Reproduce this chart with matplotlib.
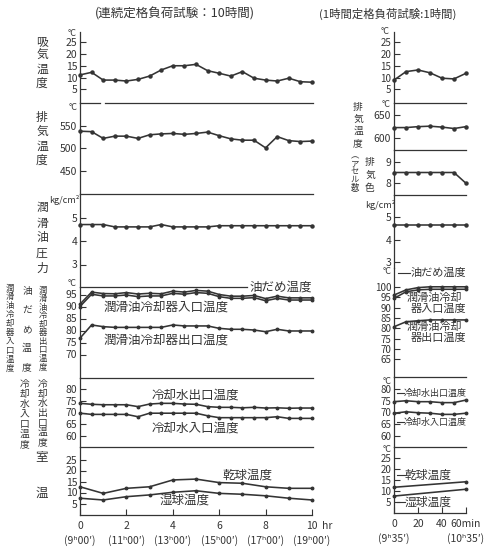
import numpy as np
import matplotlib
matplotlib.use("Agg")
import matplotlib.pyplot as plt
import matplotlib.transforms as mtransforms
from matplotlib.lines import Line2D

plt.rcParams['font.family'] = ['Noto Sans CJK JP', 'DejaVu Sans']

# ---------------- data: 10 h continuous rated-load test ----------------
hours_half = [0, 0.5, 1, 1.5, 2, 2.5, 3, 3.5, 4, 4.5, 5, 5.5, 6, 6.5, 7, 7.5, 8, 8.5, 9, 9.5, 10]
hours_full = [0, 1, 2, 3, 4, 5, 6, 7, 8, 9, 10]

intake_temp = [11.1, 12.2, 8.9, 8.9, 8.5, 9.2, 10.6, 13.2, 15.0, 15.0, 15.6, 12.9, 11.8,
               10.6, 12.5, 9.7, 8.9, 8.5, 9.7, 8.2, 8.0]
exhaust_temp = [538, 537, 522, 527, 527, 522, 530, 532, 533, 531, 533, 536, 528, 521, 518,
                518, 501, 526, 517, 515, 516]
oil_pressure = [4.7, 4.7, 4.7, 4.6, 4.6, 4.6, 4.6, 4.7, 4.6, 4.6, 4.6, 4.6, 4.65, 4.65,
                4.65, 4.65, 4.65, 4.65, 4.65, 4.65, 4.65]
oil_sump_temp = [91.0, 96.0, 95.4, 95.3, 95.8, 95.2, 95.5, 95.3, 96.4, 96.0, 96.7, 96.4,
                 95.0, 94.3, 94.3, 94.6, 93.3, 94.3, 93.6, 93.6, 93.6]
cooler_in_temp = [90.0, 95.1, 94.4, 94.4, 94.8, 94.1, 94.4, 94.4, 95.5, 95.1, 95.8, 95.5,
                  94.1, 93.4, 93.4, 93.7, 92.4, 93.4, 92.7, 92.7, 92.7]
cooler_out_temp = [76.8, 82.3, 81.6, 81.3, 81.3, 81.3, 81.3, 81.3, 82.3, 81.9, 81.9, 81.9,
                   80.9, 80.5, 80.5, 80.2, 79.5, 80.5, 79.8, 79.8, 79.8]
water_out_temp = [73.9, 73.5, 73.3, 73.3, 73.3, 72.5, 73.6, 73.9, 73.9, 73.6, 73.5, 72.5,
                  72.2, 72.2, 72.0, 72.2, 71.9, 72.0, 71.8, 71.9, 71.9]
water_in_temp = [69.7, 69.2, 69.2, 69.2, 69.2, 68.2, 69.7, 69.7, 69.7, 69.7, 69.7, 68.6,
                 67.8, 67.8, 67.8, 67.8, 67.8, 68.2, 67.5, 67.5, 67.5]
dry_bulb = [12.6, 9.6, 11.9, 12.6, 15.7, 16.1, 14.5, 14.2, 12.6, 11.9, 11.9]
wet_bulb = [7.4, 6.6, 8.1, 8.9, 10.1, 10.8, 9.6, 9.2, 8.5, 7.4, 6.6]

x_ticks_10h = [0, 2, 4, 6, 8, 10]
x_labels_10h = ['0', '2', '4', '6', '8', '10']
clock_10h = ['(9ʰ00′)', '(11ʰ00′)', '(13ʰ00′)', '(15ʰ00′)', '(17ʰ00′)', '(19ʰ00′)']

# ---------------- data: 1 h rated-load test ----------------
minutes = [0, 10, 20, 30, 40, 50, 60]
minutes_ends = [0, 60]

intake_temp_1h = [8.9, 12.5, 13.2, 12.0, 9.7, 9.4, 11.8]
exhaust_temp_1h = [623, 623, 625, 626, 624, 621, 625]
exhaust_colour_1h = [8.5, 8.5, 8.5, 8.5, 8.5, 8.5, 8.0]
oil_pressure_1h = [4.65, 4.65, 4.65, 4.65, 4.65, 4.65, 4.65]
oil_sump_temp_1h = [96.1, 98.6, 99.7, 100.1, 100.1, 100.1, 100.1]
cooler_in_temp_1h = [94.5, 97.7, 98.6, 98.9, 98.9, 98.9, 98.9]
cooler_out_temp_1h = [80.8, 83.2, 83.7, 84.1, 84.1, 84.1, 84.1]
water_out_temp_1h = [74.6, 75.0, 74.6, 74.6, 74.2, 74.2, 75.3]
water_in_temp_1h = [69.7, 70.3, 69.9, 69.7, 69.2, 69.2, 69.7]
dry_bulb_1h = [11.7, 14.2]
wet_bulb_1h = [7.7, 10.8]

x_ticks_1h = [0, 20, 40, 60]
x_labels_1h = ['0', '20', '40', '60min']
clock_1h = {0: '(9ʰ35′)', 60: '(10ʰ35′)'}

# ---------------- layout ----------------
W, H = 485, 549
INK = '#343434'
fig = plt.figure(figsize=(W / 100, H / 100), dpi=100)
fig.patch.set_facecolor('white')


def fx(x):
    return x / W


def fy(y):
    return 1 - y / H


def panel(x0, x1, ytop, ybot, ref_val, ref_px, ppu, xlim, yticks, tsize=7.5):
    ax = fig.add_axes([fx(x0), fy(ybot), (x1 - x0) / W, (ybot - ytop) / H])
    ax.set_xlim(*xlim)
    ax.set_ylim(ref_val - (ybot - ref_px) / ppu, ref_val + (ref_px - ytop) / ppu)
    ax.patch.set_alpha(0)
    for s in ('top', 'right', 'bottom'):
        ax.spines[s].set_visible(False)
    ax.spines['left'].set_color(INK)
    ax.spines['left'].set_linewidth(0.9)
    ax.set_yticks(yticks)
    ax.tick_params(axis='y', direction='in', length=4, width=0.8, colors=INK,
                   labelsize=tsize, pad=2)
    ax.set_xticks([])
    return ax


def time_axis(ax, ticks, labels, clock):
    ax.spines['bottom'].set_visible(True)
    ax.spines['bottom'].set_color(INK)
    ax.spines['bottom'].set_linewidth(0.9)
    ax.set_xticks(ticks)
    ax.set_xticklabels(labels)
    ax.tick_params(axis='x', direction='in', length=4, width=0.8, colors=INK,
                   labelsize=7.5, pad=4)
    trans = mtransforms.blended_transform_factory(
        ax.transData, ax.transAxes + mtransforms.ScaledTranslation(0, -26 / 100,
                                                                   fig.dpi_scale_trans))
    for t, s in clock:
        ax.text(t, 0, s, transform=trans, ha='center', va='center', fontsize=7.5,
                color=INK)


def separator(ax, xa=0.0, xb=1.0):
    ax.axhline(ax.get_ylim()[0], xa, xb, color=INK, lw=0.9, clip_on=False)


def series(ax, x, y, ms=2.2):
    ax.plot(x, y, color=INK, lw=1.15, marker='o', ms=ms, mfc=INK, mec=INK,
            clip_on=False)


def text(x, y, s, size=8.5, ha='left', va='center', **kw):
    fig.text(fx(x), fy(y), s, fontsize=size, ha=ha, va=va, color=INK, **kw)


def vlabel(x, y0, y1, chars, size=8):
    n = len(chars)
    for i, c in enumerate(chars):
        y = y0 + (y1 - y0) * i / (n - 1) if n > 1 else y0
        text(x, y, c, size=size, ha='center')


def leader(x0, x1, y):
    fig.add_artist(Line2D([fx(x0), fx(x1)], [fy(y), fy(y)], color=INK, lw=0.8))


# left block: 10 h test
LX0, LX1 = 80, 312
lx = (0, 10)
l1 = panel(LX0, LX1, 32, 103, 10, 77.5, 2.35, lx, [5, 10, 15, 20, 25])
series(l1, hours_half, intake_temp)
separator(l1, 0, 0.085)
separator(l1, 0.108, 1.004)

l2 = panel(LX0, LX1, 103, 194, 500, 148.3, 0.45, lx, [450, 500, 550])
series(l2, hours_half, exhaust_temp)
separator(l2, 0, 1.004)

l3 = panel(LX0, LX1, 194, 287, 5, 217.5, 23.5, lx, [3, 4, 5])
series(l3, hours_half, oil_pressure)
separator(l3, 0, 0.72)

l4 = panel(LX0, LX1, 287, 378, 95, 294.5, 2.4, lx, [70, 75, 80, 85, 90, 95])
series(l4, hours_half, oil_sump_temp, ms=1.8)
series(l4, hours_half, cooler_in_temp, ms=1.8)
series(l4, hours_half, cooler_out_temp, ms=1.8)
separator(l4, 0, 1.004)

l5 = panel(LX0, LX1, 378, 447, 80, 389, 2.35, lx, [60, 65, 70, 75, 80])
series(l5, hours_half, water_out_temp, ms=1.8)
series(l5, hours_half, water_in_temp, ms=1.8)
separator(l5, 0, 1.004)

l6 = panel(LX0, LX1, 447, 515, 0, 514.5, 2.2, lx, [5, 10, 15, 20, 25])
series(l6, hours_full, dry_bulb, ms=1.8)
series(l6, hours_full, wet_bulb, ms=1.8)
time_axis(l6, x_ticks_10h, x_labels_10h, zip(x_ticks_10h, clock_10h))

# right block: 1 h test
RX0, RX1 = 394, 466
rx = (0, 60)
r1 = panel(RX0, RX1, 32, 103, 10, 77.5, 2.35, rx, [5, 10, 15, 20, 25], 7)
series(r1, minutes, intake_temp_1h)
separator(r1)

r2 = panel(RX0, RX1, 103, 150, 650, 115, 0.466, rx, [600, 650], 7.5)
series(r2, minutes, exhaust_temp_1h)
separator(r2)

r3 = panel(RX0, RX1, 150, 195, 8, 183.3, 21.6, rx, [8, 9], 7.5)
series(r3, minutes, exhaust_colour_1h)
separator(r3)

r4 = panel(RX0, RX1, 195, 268, 5, 217, 22.5, rx, [3, 4, 5], 7.5)
series(r4, minutes, oil_pressure_1h)

r5 = panel(RX0, RX1, 268, 377, 100, 287, 2.07, rx, [65, 70, 75, 80, 85, 90, 95, 100], 7)
series(r5, minutes, oil_sump_temp_1h, ms=1.8)
series(r5, minutes, cooler_in_temp_1h, ms=1.8)
series(r5, minutes, cooler_out_temp_1h, ms=1.8)
separator(r5)

r6 = panel(RX0, RX1, 377, 447, 80, 389, 2.35, rx, [60, 65, 70, 75, 80], 7)
series(r6, minutes, water_out_temp_1h, ms=1.8)
series(r6, minutes, water_in_temp_1h, ms=1.8)
separator(r6)

r7 = panel(RX0, RX1, 447, 513, 0, 513, 2.2, rx, [5, 10, 15, 20, 25], 7)
series(r7, minutes_ends, dry_bulb_1h, ms=1.8)
series(r7, minutes_ends, wet_bulb_1h, ms=1.8)
time_axis(r7, x_ticks_1h, x_labels_1h, clock_1h.items())

# titles
text(175, 14, '(連続定格負荷試験：10時間)', size=9, ha='center')
text(388, 14, '(1時間定格負荷試験:1時間)', size=8.2, ha='center')
text(322, 526, 'hr', size=7.5)

# units
for x, y, s in [(77, 34, '°C'), (78, 108, '°C'), (80, 200, 'kg/cm²'), (77, 284, '°C'),
                (390, 31, '°C'), (391, 104, '°C'), (396, 205, 'kg/cm²'), (392, 272, '°C'),
                (392, 381, '°C'), (392, 450, '°C')]:
    text(x, y, s, size=6.5, ha='right')

# left-hand quantity names
vlabel(42, 42, 83, '吸気温度', size=8.5)
vlabel(42, 118, 160, '排気温度', size=8.5)
vlabel(42, 208, 268, '潤滑油圧力', size=8.5)
vlabel(43, 290, 367, '潤滑油冷却器出口温度', size=6)
vlabel(27, 291, 367, '油だめ温度', size=7)
vlabel(10, 288, 368, '潤滑油冷却器入口温度', size=6)
vlabel(25, 384, 444, '冷却水入口温度', size=7)
vlabel(43, 384, 442, '冷却水出口温度', size=7)
vlabel(42, 458, 458, '室', size=9)
vlabel(42, 493, 493, '温', size=9)

vlabel(358, 107, 143, '排気温度', size=7)
vlabel(370, 162, 188, '排気色', size=7)
vlabel(355, 156, 195, ['︵', 'ア', 'セ', 'ル', '数', '︶'], size=6)

# curve names, 10 h block
text(249, 287, '油だめ温度', size=9)
text(103, 307, '潤滑油冷却器入口温度', size=9)
text(103, 340, '潤滑油冷却器出口温度', size=9)
text(152, 395, '冷却水出口温度', size=9)
text(152, 428, '冷却水入口温度', size=9)
text(222, 475, '乾球温度', size=9)
text(160, 500, '湿球温度', size=9)

# curve names, 1 h block
leader(398, 410, 273)
text(411, 273, '油だめ温度', size=8)
text(407, 298, '潤滑油冷却', size=8)
text(411, 309, '器入口温度', size=8)
text(407, 327, '潤滑油冷却', size=8)
text(411, 338, '器出口温度', size=8)
leader(397, 404, 393)
text(404, 393, '冷却水出口温度', size=6.5)
leader(397, 404, 422)
text(404, 422, '冷却水入口温度', size=6.5)
leader(397, 405, 475)
text(405, 475, '乾球温度', size=8.5)
leader(397, 405, 502)
text(405, 502, '湿球温度', size=8.5)

fig.savefig('out.png', dpi=100, facecolor='white')
